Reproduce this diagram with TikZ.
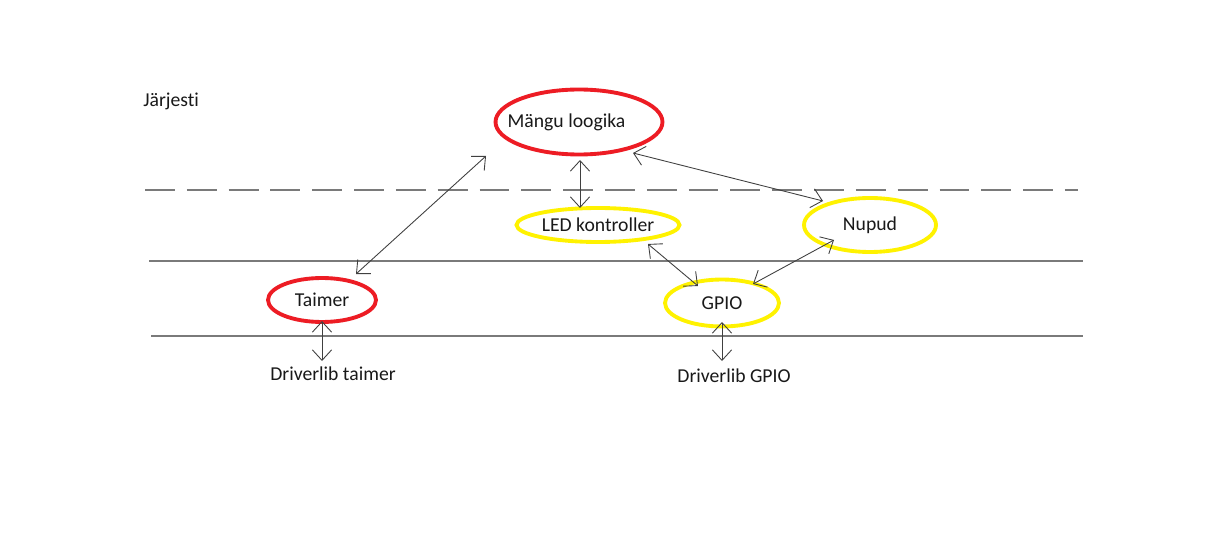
\documentclass[tikz,border=0pt]{standalone}
\usepackage{fontspec}
\setmainfont{Carlito}[Ligatures={NoCommon}]
\usetikzlibrary{shapes.geometric,arrows.meta,calc}
\definecolor{pred}{HTML}{ED1C24}
\definecolor{pyel}{HTML}{FFF200}
\definecolor{lgray}{HTML}{7A7A7A}
\definecolor{agray}{HTML}{404040}
\begin{document}
\begin{tikzpicture}[x=0.02cm,y=-0.02cm,
  every node/.style={font=\fontsize{11.2}{13}\selectfont, text=black!90},
  bub/.style={ellipse, draw, line width=2.2pt, inner sep=0pt},
  redbub/.style={bub, draw=pred},
  yelbub/.style={bub, draw=pyel},
  label/.style={inner sep=0pt},
  sep/.style={draw=lgray, line width=0.8pt},
  link/.style={draw=agray, line width=0.5pt, {Straight Barb[length=6pt,width=11pt]}-{Straight Barb[length=6pt,width=11pt]}}
]
\useasboundingbox[fill=white] (0,0) rectangle (1214,547);

% layer lines
\coordinate (d1) at (145,190); \coordinate (d2) at (1078,190);
\coordinate (l1) at (149,261); \coordinate (l2) at (1083,261);
\coordinate (m1) at (151,336); \coordinate (m2) at (1083,336);
\draw[sep, dash pattern=on 17pt off 6.8pt] (d1) -- (d2);
\draw[sep] (l1) -- (l2);
\draw[sep] (m1) -- (m2);

% nodes
\node[label, anchor=west] (jar) at (143,101) {Järjesti};
\node[redbub, minimum width=3.34cm, minimum height=1.3cm] (mangu) at (579,122) {\hspace*{-0.5cm}Mängu loogika};
\node[yelbub, minimum width=3.26cm, minimum height=0.68cm] (led) at (598,225) {LED kontroller};
\node[yelbub, minimum width=2.64cm, minimum height=1.08cm] (nupud) at (870,225) {Nupud};
\node[redbub, minimum width=2.16cm, minimum height=0.88cm] (taimer) at (322,300) {Taimer};
\node[yelbub, minimum width=2.28cm, minimum height=0.94cm] (gpio) at (722,303) {GPIO};
\node[label] (dtaimer) at (333,374) {Driverlib taimer};
\node[label] (dgpio) at (734,376) {Driverlib GPIO};

% connectors
\draw[link] ($(taimer)+(34,-26)$) -- ($(mangu)+(-93,34)$);
\draw[link] ($(mangu)+(1,38)$) -- ($(led)+(-18,-17)$);
\draw[link] ($(mangu)+(54,31)$) -- ($(nupud)+(-47,-24)$);
\draw[link] ($(led)+(50,19)$) -- ($(gpio)+(-24,-17)$);
\draw[link] ($(nupud)+(-36,15)$) -- ($(gpio)+(31,-19)$);
\draw[link] ($(taimer)+(0,21)$) -- ($(dtaimer)+(-11,-13)$);
\draw[link] ($(gpio)+(0,19)$) -- ($(dgpio)+(-12,-15)$);
\end{tikzpicture}
\end{document}
